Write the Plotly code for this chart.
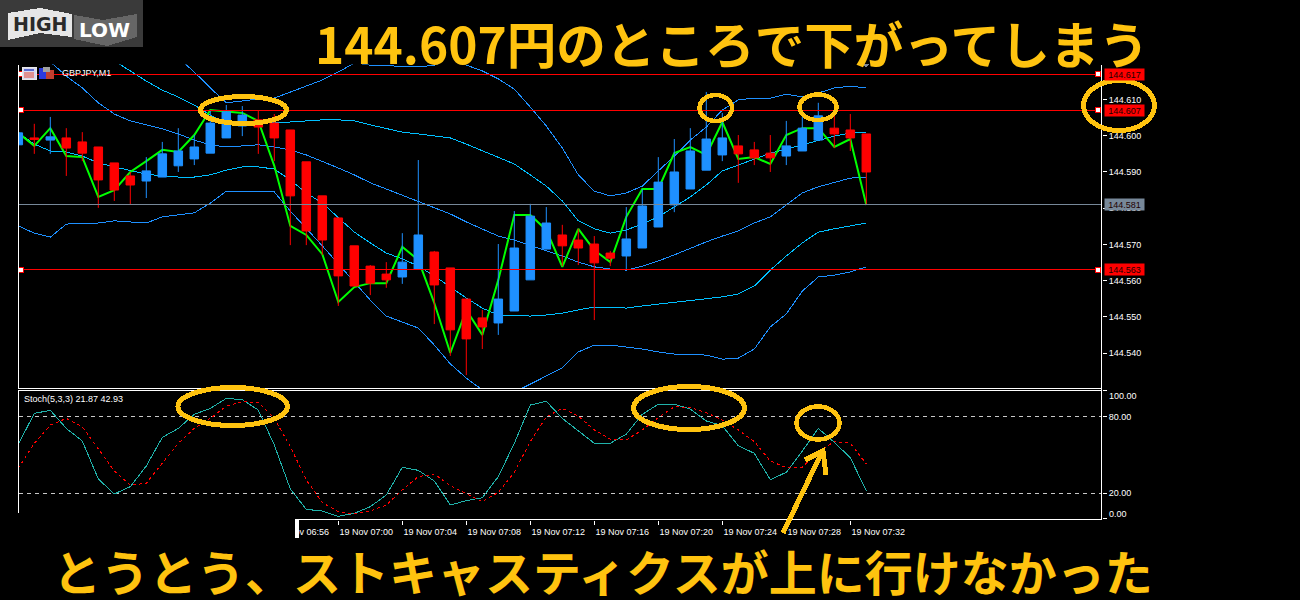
import plotly.graph_objects as go

# ---- data: prices are stored as tenths of a pip above 144 (144.6008 -> 6008) ----
PRICE_BASE = 144.0
time_ticks = [16, 20, 24, 28, 32, 36, 40, 44, 48, 52]
time_labels = ["19 Nov 06:56", "19 Nov 07:00", "19 Nov 07:04", "19 Nov 07:08", "19 Nov 07:12",
               "19 Nov 07:16", "19 Nov 07:20", "19 Nov 07:24", "19 Nov 07:28", "19 Nov 07:32"]
price_ticks = [144.540, 144.550, 144.560, 144.570, 144.580, 144.590, 144.600, 144.610]
red_levels = [144.617, 144.607, 144.563]
bid_level = 144.581
stoch_ticks = [100, 80, 20, 0]
stoch_levels = [80, 20]

opens = [5975,5994,5988,5994,5983,5969,5925,5889,5875,5886,5917,5936,5952,5994,6027,6044,6035,6016,
         5928,5834,5773,5696,5640,5618,5610,5632,5679,5635,5549,5497,5483,5516,5602,5687,5726,5712,
         5701,5676,5668,5690,5748,5809,5853,5905,5947,5972,5961,5952,5944,5958,5988,6021,6016,6005]
highs = [6008,6033,6052,6021,6010,5969,5925,5900,5941,5983,6021,6002,6071,6085,6082,6071,6060,6016,
         5928,5834,5773,5696,5643,5651,5731,5933,5682,5635,5549,5519,5701,5792,5812,5803,5754,5743,
         5723,5682,5803,5853,5941,5991,6021,6121,6063,6002,5983,6002,6041,6052,6091,6055,6060,6005]
lows = [5975,5950,5950,5889,5930,5801,5820,5809,5828,5886,5900,5919,5952,5994,5999,5950,5930,5698,
        5698,5671,5530,5585,5560,5580,5591,5632,5480,5392,5339,5411,5450,5516,5602,5687,5640,5643,
        5491,5640,5629,5690,5748,5789,5853,5905,5930,5870,5919,5900,5919,5958,5988,5966,5958,5809]
closes = [6008,5990,5997,5966,5952,5878,5850,5864,5903,5950,5958,5969,6035,6066,6057,6024,5994,5834,
          5737,5712,5613,5585,5593,5602,5651,5726,5588,5464,5439,5472,5549,5690,5778,5759,5696,5690,
          5649,5662,5715,5806,5872,5900,5958,5991,5994,5950,5939,5939,5972,6021,6055,6005,5994,5900]
zigzag = [6008,5972,6021,5944,5941,5831,5850,5900,5930,5961,5955,6002,6071,6066,6063,6041,5917,5751,
          5726,5673,5541,5582,5593,5593,5693,5657,5538,5400,5519,5450,5602,5781,5781,5740,5638,5743,
          5684,5651,5776,5853,5853,5952,5969,5947,6038,5936,5941,5922,6002,6021,6021,5969,5991,5809]
band_top = [None]*10 + [6215,6176,6132,6091,6096,6102,6104,6121,6137,6154,
            6176,6201,6195,6195,6190,6190,6195,6209,6195,6179,
            6157,6129,6079,6027,5966,5892,5847,5834,5842,5861,
            5903,5944,5988,6024,6071,6099,6104,6104,6115,6107,
            6118,6132,6137,6132]
band_upper = [None]*6 + [6207,6179,6151,6126,6107,6085,6057,6033,6033,6038,
              6038,6038,6041,6044,6044,6041,6030,6019,6010,6005,
              5999,5994,5977,5958,5939,5922,5892,5861,5820,5765,
              5743,5731,5740,5756,5776,5803,5831,5864,5903,5919,
              5936,5952,5963,5975,5988,5999,6008,6010]
band_mid = [None]*2 + [6204,6165,6132,6091,6060,6041,6030,6019,6005,5988,
            5975,5969,5972,5975,5969,5961,5947,5930,5911,5892,
            5870,5853,5836,5817,5801,5784,5762,5743,5723,5712,
            5698,5684,5668,5651,5638,5632,5629,5640,5654,5671,
            5690,5707,5723,5737,5759,5776,5809,5842,5859,5872,
            5883,5886]
band_lower = [6008,5977,5958,5955,5944,5925,5914,5903,5894,5889,
              5886,5886,5892,5905,5914,5914,5908,5878,5842,5814,
              5773,5734,5704,5676,5660,5640,5613,5582,5552,5524,
              5505,5505,5502,5505,5510,5519,5527,5527,5524,5530,
              5535,5541,5544,5549,5555,5563,5585,5629,5668,5704,
              5734,5743,5751,5759]
band_bottom = [5751,5731,5720,5756,5759,5759,5765,5762,5759,5776,
               5781,5787,5814,5847,5847,5847,5845,5792,5745,5696,
               5646,5596,5546,5502,5486,5469,5422,5370,5331,5298,
               5281,5292,5314,5336,5359,5403,5422,5422,5417,5411,
               5403,5397,5397,5394,5383,5386,5411,5472,5508,5571,
               5610,5615,5624,5638]
stoch_main = [58.2,82.3,84.7,70.6,60.8,31.2,19.5,25.2,41.3,63.6,70.6,81.6,86.2,94,93,84.9,57.7,23.4,
              7.5,6.2,2.1,4.4,9.6,18.7,40.3,37.9,29.6,10.9,14.3,16.6,33,59,88.8,91.7,78.4,68.6,
              59,59,66.2,81.6,89.4,89.4,85.7,76.4,72.7,57.1,51.2,30.6,36.4,53,70.6,59.7,47.8,21.87]
stoch_signal = [39.5,59,73.2,78.4,71.9,55,37.4,26.5,27.8,43.4,59,70.6,78.4,88,91.4,90.9,78.4,56.4,
                30.4,12.7,5.7,3.9,6.2,10.9,22.6,33,35,26,20,13.5,20.8,36.4,60.3,79.7,86.2,80.3,
                69.4,62.3,61.6,69.4,79,87.5,87,82.9,77.1,69.4,60.3,45.2,40,40.5,52.5,60.3,59,42.93]

title_top = "144.607円のところで下がってしまう"
title_bottom = "とうとう、ストキャスティクスが上に行けなかった"
symbol_label = "GBPJPY,M1"
stoch_label = "Stoch(5,3,3) 21.87 42.93"

# ---- helpers ----
W, H = 1300, 600
GOLD = "#FFC30F"
FONT = "Liberation Sans"
px = lambda x: x / W
py = lambda y: 1 - y / H
price = lambda arr: [None if v is None else PRICE_BASE + v / 10000 for v in arr]
idx = list(range(len(opens)))

fig = go.Figure()

# Bollinger-style bands
for arr, col in [(band_top, "#1E90FF"), (band_upper, "#00BFFF"), (band_mid, "#1E90FF"),
                 (band_lower, "#00BFFF"), (band_bottom, "#1E90FF")]:
    fig.add_trace(go.Scatter(x=idx, y=price(arr), mode="lines", line=dict(color=col, width=1),
                             hoverinfo="skip", showlegend=False, zorder=0))
fig.add_trace(go.Scatter(x=idx, y=price(zigzag), mode="lines", line=dict(color="#00FF00", width=2),
                         hoverinfo="skip", showlegend=False, zorder=1))
fig.add_trace(go.Candlestick(x=idx, open=price(opens), high=price(highs), low=price(lows), close=price(closes),
                             increasing=dict(line=dict(color="#1E90FF", width=1), fillcolor="#1E90FF"),
                             decreasing=dict(line=dict(color="#FF0000", width=1), fillcolor="#FF0000"),
                             whiskerwidth=0, showlegend=False, hoverinfo="skip", zorder=2))

fig.add_trace(go.Scatter(x=idx, y=stoch_main, xaxis="x2", yaxis="y2", mode="lines",
                         line=dict(color="#20B2AA", width=1), hoverinfo="skip", showlegend=False))
fig.add_trace(go.Scatter(x=idx, y=stoch_signal, xaxis="x2", yaxis="y2", mode="lines",
                         line=dict(color="#FF0000", width=1, dash="3px,3px"), hoverinfo="skip", showlegend=False))

shapes = []
for v in stoch_levels:
    shapes.append(dict(type="line", xref="paper", yref="y2", x0=px(18.5), x1=px(1102), y0=v, y1=v, layer="below",
                       line=dict(color="#C8C8C8", width=1, dash="4px,4px")))
for lvl in red_levels:
    shapes.append(dict(type="line", xref="paper", yref="y", x0=px(18.5), x1=px(1098), y0=lvl, y1=lvl,
                       line=dict(color="#FF0000", width=1)))
shapes.append(dict(type="line", xref="paper", yref="y", x0=px(18.5), x1=px(1102), y0=bid_level, y1=bid_level,
                   line=dict(color="#778899", width=1)))
# end handles of the level lines
for lvl in red_levels:
    for hx in (21, 1098):
        shapes.append(dict(type="rect", xref="paper", yref="y", xsizemode="pixel", ysizemode="pixel",
                           xanchor=px(hx), yanchor=lvl, x0=-2.5, x1=2.5, y0=-2.5, y1=2.5,
                           fillcolor="white", line=dict(color="#FF0000", width=1)))


def rect(x0, y0, x1, y1, fill, line=None):
    return dict(type="rect", xref="paper", yref="paper", x0=px(x0), x1=px(x1), y0=py(y0), y1=py(y1),
                fillcolor=fill, line=dict(color=line or fill, width=1 if line else 0))


def poly(points, fill=None, color=None, width=0, close=True):
    d = "M " + " L ".join(f"{px(x):.5f},{py(y):.5f}" for x, y in points) + (" Z" if close else "")
    return dict(type="path", xref="paper", yref="paper", path=d, fillcolor=fill or "rgba(0,0,0,0)",
                line=dict(color=color or "rgba(0,0,0,0)", width=width))


def ring(x0, y0, x1, y1, w=5):
    return dict(type="circle", xref="paper", yref="paper", x0=px(x0), x1=px(x1), y0=py(y0), y1=py(y1),
                line=dict(color=GOLD, width=w), fillcolor="rgba(0,0,0,0)")


# panel frames
frame = [((18.5, 65), (18.5, 388.5)), ((18.5, 388.5), (1101.5, 388.5)), ((1101.5, 65), (1101.5, 519.5)),
         ((18.5, 390.5), (1101.5, 390.5)), ((18.5, 390.5), (18.5, 519.5)), ((18.5, 519.5), (1101.5, 519.5))]
shapes += [poly(list(seg), color="#FFFFFF", width=1, close=False) for seg in frame]
# chart toolbar icons
shapes += [rect(22, 67.5, 36, 79, "#D8D8F0", "#E8E8E8"), rect(24, 69, 34, 71, "#5A6AD0"), rect(24, 72, 34, 77.5, "#E09090"),
           rect(39, 68, 46, 79, "#2A3ADF"), rect(46, 70, 54, 79, "#C04030"), rect(43, 67, 50, 72, "#A0A0A0"),
           poly([(862.5, 64), (869.5, 64), (866, 68)], fill="#808898")]
# hidden left end of the time axis
shapes += [rect(0, 513, 295, 540, "#000000"), rect(295, 520, 298.5, 538, "#FFFFFF")]
# logo
shapes += [rect(0, 0, 143, 47, "#3A3A3A"),
           poly([(8, 13), (40, 8), (72, 14), (72, 37), (40, 33), (8, 40)], fill="#E6E6E6"),
           poly([(74, 15), (103, 20), (137, 14), (137, 37), (107, 46), (74, 39)], fill="#666666")]
# hand-drawn marks
shapes += [ring(200.5, 96.5, 286.5, 123.5), ring(699.5, 95, 732, 121, 4.5), ring(799.5, 94.5, 836.5, 120, 4.5),
           ring(1083.5, 80.5, 1154.5, 130.5), ring(178, 387.5, 287.5, 425.5), ring(633.5, 386.5, 744.5, 429.5),
           ring(796.5, 406.5, 839.5, 439.5, 4.5),
           poly([(783, 533), (822, 452)], color=GOLD, width=5, close=False),
           poly([(805, 460), (823, 451), (826, 475)], color=GOLD, width=5, close=False)]


def label(x, y, text, size=9, color="white", yref="paper", **kw):
    return dict(x=px(x), y=y, xref="paper", yref=yref, text=text, showarrow=False, xanchor=kw.pop("xanchor", "left"),
                yanchor="middle", font=dict(family=kw.pop("family", FONT), size=size, color=color), **kw)


annotations = [
    label(60, py(73), symbol_label),
    label(22, py(399), stoch_label),
    label(1107, py(396), "100.00"),
    label(1107, py(513.5), "0.00"),
    label(11, py(24), "<b>HIGH</b>", size=19, color="#2A2A2A", family="DejaVu Sans"),
    label(77, py(30), "<b>LOW</b>", size=20, color="#FFFFFF", family="DejaVu Sans"),
    label(731.5, py(42.5), f"<b>{title_top}</b>", size=49.6, color=GOLD, family="Noto Sans CJK JP", xanchor="center"),
    label(602.5, py(569.5), f"<b>{title_bottom}</b>", size=48, color=GOLD, family="Noto Sans CJK JP", xanchor="center"),
]
for lvl in red_levels + [bid_level]:
    annotations.append(label(1104, lvl, f"{lvl:.3f}", color="#200000", yref="y", width=39, height=11, align="center",
                             borderpad=0, bgcolor="#778899" if lvl == bid_level else "#FF0000"))

axis_common = dict(showgrid=False, zeroline=False, showline=False,
                   tickcolor="white", tickfont=dict(family=FONT, size=9, color="white"), ticklen=4, tickwidth=1)
x_range = [0.0125, 67.73]
x_domain = [px(18.5), px(1102)]

fig.update_layout(
    width=W, height=H, margin=dict(l=0, r=0, t=0, b=0), autosize=False,
    paper_bgcolor="black", plot_bgcolor="black", showlegend=False, boxgap=0.24,
    shapes=shapes, annotations=annotations, hovermode=False,
    xaxis=dict(axis_common, domain=x_domain, range=x_range, anchor="y", ticks="", showticklabels=False,
               rangeslider=dict(visible=False)),
    yaxis=dict(axis_common, domain=[py(388.5), py(64.5)], range=[PRICE_BASE + 0.53020, PRICE_BASE + 0.61968], side="right",
               anchor="x", ticks="outside", tickvals=price_ticks, ticktext=[f"{t:.3f}" for t in price_ticks]),
    xaxis2=dict(axis_common, domain=x_domain, range=x_range, anchor="y2", ticks="outside",
                tickvals=time_ticks, ticktext=time_labels, tickangle=0, ticklabelshift=28),
    yaxis2=dict(axis_common, domain=[py(519.5), py(390.5)], range=[-0.4, 100.15], side="right", anchor="x2",
                ticks="outside", tickvals=stoch_ticks, ticktext=["", "80.00", "20.00", ""]),
)

page_fix = """
var s = document.createElement('style');
s.textContent = 'html,body{margin:0;padding:0;overflow:hidden;background:#000}'
  + ' .scatterlayer path,.boxlayer path,.shapelayer path{shape-rendering:crispEdges}';
document.head.appendChild(s);
"""
fig.write_html("out.html", post_script=page_fix, config=dict(displayModeBar=False))
